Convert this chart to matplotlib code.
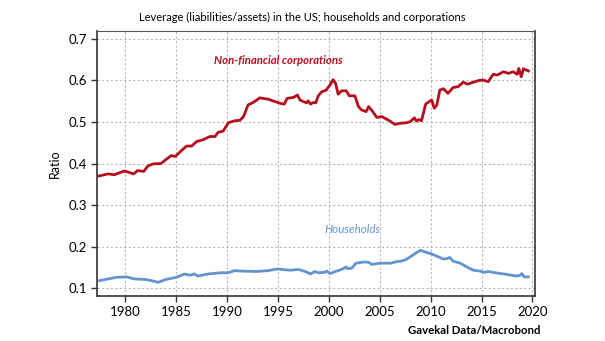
import matplotlib
matplotlib.use("Agg")
import matplotlib.pyplot as plt

plt.rcParams['font.family'] = ['Lato', 'DejaVu Sans']

# Non-financial corporations: liabilities / assets
corp_years = [1977.4, 1978.3, 1978.9, 1979.9, 1980.8, 1981.2, 1981.8, 1982.2, 1982.7, 1983.5,
              1984.0, 1984.5, 1984.9, 1985.5, 1986.0, 1986.5, 1987.0, 1987.6, 1988.3, 1988.8,
              1989.1, 1989.6, 1990.1, 1990.75, 1991.25, 1991.6, 1992.05, 1992.55, 1993.2, 1994.0,
              1995.2, 1995.6, 1995.9, 1996.5, 1996.9, 1997.15, 1997.5, 1997.8, 1997.95, 1998.2,
              1998.45, 1998.7, 1998.95, 1999.3, 1999.7, 2000.1, 2000.4, 2000.65, 2000.9, 2001.25,
              2001.7, 2002.0, 2002.55, 2002.9, 2003.2, 2003.65, 2003.9, 2004.3, 2004.7, 2005.2,
              2005.8, 2006.0, 2006.5, 2007.0, 2007.6, 2008.0, 2008.4, 2008.6, 2008.85, 2009.1,
              2009.5, 2009.85, 2010.1, 2010.35, 2010.6, 2010.9, 2011.25, 2011.7, 2012.2, 2012.7,
              2013.2, 2013.6, 2014.2, 2014.75, 2015.15, 2015.65, 2016.15, 2016.55, 2017.15, 2017.65,
              2018.1, 2018.5, 2018.65, 2018.9, 2019.1, 2019.6]
corp_ratio = [0.370, 0.375, 0.373, 0.382, 0.375, 0.383, 0.381, 0.394, 0.399, 0.400,
              0.410, 0.419, 0.417, 0.431, 0.442, 0.442, 0.453, 0.457, 0.465, 0.465,
              0.475, 0.478, 0.498, 0.503, 0.504, 0.513, 0.541, 0.547, 0.558, 0.555,
              0.545, 0.543, 0.557, 0.559, 0.565, 0.553, 0.549, 0.546, 0.551, 0.543,
              0.547, 0.546, 0.563, 0.573, 0.576, 0.589, 0.602, 0.593, 0.567, 0.575,
              0.575, 0.563, 0.563, 0.537, 0.529, 0.525, 0.537, 0.525, 0.511, 0.513,
              0.505, 0.502, 0.494, 0.497, 0.498, 0.501, 0.510, 0.502, 0.506, 0.503,
              0.543, 0.549, 0.553, 0.533, 0.541, 0.577, 0.580, 0.569, 0.583, 0.585,
              0.596, 0.591, 0.596, 0.600, 0.601, 0.597, 0.615, 0.613, 0.621, 0.617,
              0.621, 0.615, 0.629, 0.609, 0.628, 0.623]

# Households: liabilities / assets
hh_years = [1977.45, 1978.3, 1979.1, 1980.1, 1980.9, 1981.9, 1982.55, 1983.2, 1984.0, 1985.0,
            1985.8, 1986.3, 1986.8, 1987.1, 1988.1, 1989.45, 1990.1, 1990.7, 1991.4, 1992.9,
            1994.0, 1994.9, 1996.2, 1997.0, 1997.65, 1998.2, 1998.6, 1998.95, 1999.6, 1999.8,
            2000.1, 2000.75, 2001.25, 2001.7, 2001.8, 2002.25, 2002.65, 2003.5, 2003.9, 2004.2,
            2005.0, 2006.1, 2006.5, 2007.1, 2007.6, 2008.1, 2008.7, 2009.0, 2009.45, 2010.1,
            2010.6, 2011.25, 2011.6, 2011.85, 2012.2, 2012.9, 2013.55, 2014.2, 2014.85, 2015.25,
            2015.65, 2016.3, 2017.45, 2018.45, 2018.8, 2018.95, 2019.2, 2019.6]
hh_ratio = [0.118, 0.122, 0.126, 0.127, 0.122, 0.121, 0.118, 0.114, 0.121, 0.126,
            0.134, 0.131, 0.134, 0.129, 0.134, 0.137, 0.137, 0.142, 0.141, 0.140,
            0.142, 0.146, 0.143, 0.145, 0.140, 0.134, 0.140, 0.137, 0.138, 0.141,
            0.135, 0.141, 0.145, 0.151, 0.147, 0.148, 0.160, 0.163, 0.162, 0.157,
            0.160, 0.160, 0.163, 0.165, 0.169, 0.177, 0.187, 0.191, 0.187, 0.182,
            0.177, 0.170, 0.171, 0.174, 0.165, 0.160, 0.151, 0.143, 0.141, 0.138,
            0.140, 0.137, 0.133, 0.129, 0.131, 0.135, 0.127, 0.127]

x_ticks = [1980, 1985, 1990, 1995, 2000, 2005, 2010, 2015, 2020]
y_ticks = [0.1, 0.2, 0.3, 0.4, 0.5, 0.6, 0.7]

red = '#b50f1e'
blue = '#6394cf'

fig = plt.figure(figsize=(6.05, 3.41), dpi=100)
ax = fig.add_axes([0.1603, 0.132, 0.724, 0.777])

ax.plot(corp_years, corp_ratio, color=red, lw=2.0, solid_joinstyle='round')
ax.plot(hh_years, hh_ratio, color=blue, lw=2.0, solid_joinstyle='round')

ax.set_xlim(1977.2, 2020.25)
ax.set_ylim(0.081, 0.719)
ax.set_xticks(x_ticks)
ax.set_yticks(y_ticks)
ax.set_xticklabels([str(t) for t in x_ticks])
ax.set_yticklabels([f'{t:.1f}' for t in y_ticks])
ax.tick_params(labelsize=9.5, length=4, width=1, color='#333333', pad=3)

ax.grid(True, color='#b8b8b8', linestyle=(0, (2, 2)), linewidth=0.8)
ax.set_axisbelow(True)

for side in ['left', 'bottom', 'right']:
    ax.spines[side].set_color('#333333')
    ax.spines[side].set_linewidth(1.2)
ax.spines['top'].set_color('#555555')
ax.spines['top'].set_linewidth(0.8)

ax.set_ylabel('Ratio', fontsize=9, labelpad=6)

ax.text(1995.0, 0.649, 'Non-financial corporations', color=red, fontsize=8.2,
        fontstyle='italic', fontweight='bold', ha='center', va='center')
ax.text(2002.3, 0.241, 'Households', color=blue, fontsize=8.4,
        fontstyle='italic', ha='center', va='center')

fig.text(0.5, 0.95, 'Leverage (liabilities/assets) in the US; households and corporations',
         fontsize=8.0, ha='center', va='center')
fig.text(0.893, 0.03, 'Gavekal Data/Macrobond', fontsize=8.2, fontweight='bold',
         ha='right', va='center')

fig.savefig('out.png', dpi=100)
